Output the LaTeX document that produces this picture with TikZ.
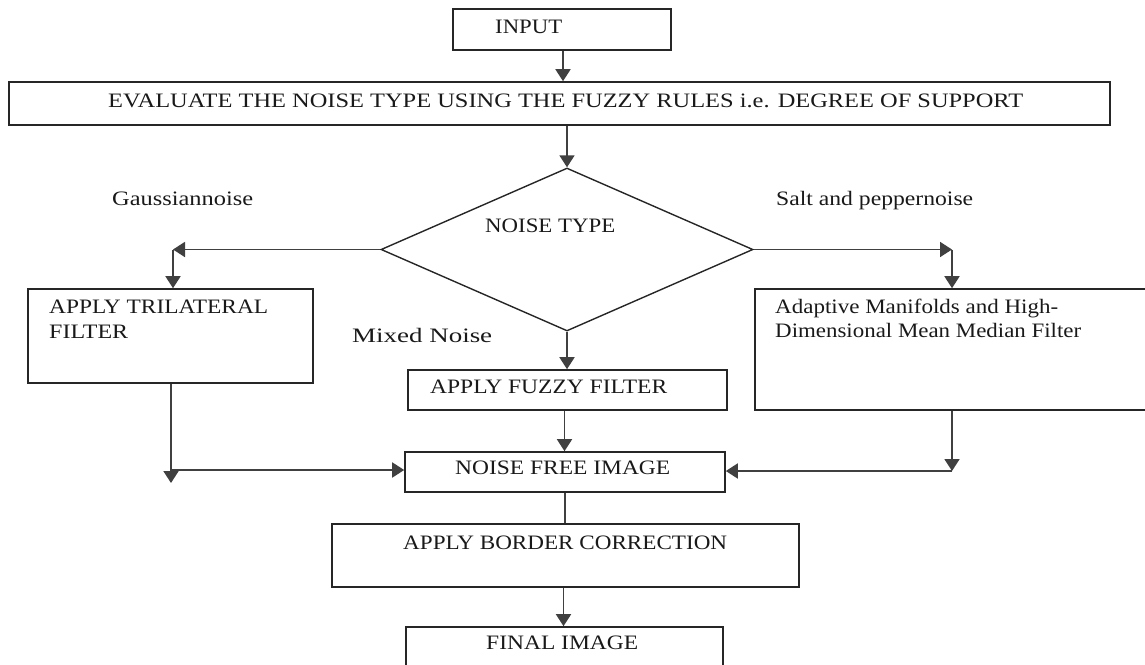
\documentclass[tikz,border=0pt]{standalone}
\usepackage{fontspec}
\setmainfont{Liberation Serif}
\usetikzlibrary{arrows.meta,shapes.geometric}
\newcommand{\fitw}[2]{\resizebox{#1pt}{\height}{#2}}
\begin{document}
\begin{tikzpicture}[x=1pt,y=-1pt,
  box/.style={draw=black!85,line width=1.6pt,inner sep=0pt,rectangle},
  txt/.style={anchor=base west,inner sep=0pt,font=\fontsize{20.5}{24}\selectfont,text=black!90},
  arr/.style={draw=black!75,line width=1.8pt,-{Triangle[length=12pt,width=15pt]}},
  ln/.style={draw=black!75,line width=1.8pt}]
\useasboundingbox (0,0) rectangle (1145,664);
% boxes
\node[box,minimum width=218pt,minimum height=41pt] (input) at (562,29.5) {};
\node[box,minimum width=1101pt,minimum height=43pt] (eval) at (559.5,103.5) {};
\node[draw=black!85,line width=1.4pt,shape=diamond,inner sep=0pt,minimum width=372pt,minimum height=163pt] (dia) at (567,249.5) {};
\node[box,minimum width=285pt,minimum height=94pt] (tri) at (170.5,336) {};
\node[box,minimum width=395pt,minimum height=121pt] (amf) at (952.5,349.5) {};
\node[box,minimum width=319pt,minimum height=40pt] (fuz) at (567.5,390) {};
\node[box,minimum width=320pt,minimum height=40pt] (nf) at (565,472) {};
\node[box,minimum width=467pt,minimum height=63pt] (bc) at (565.5,555.5) {};
\node[box,minimum width=317pt,minimum height=53pt] (fin) at (564.5,653.5) {};
% texts
\node[txt] (tinput) at (495,33) {\fitw{67}{INPUT}};
\node[txt] (teval) at (108,107) {\fitw{915}{EVALUATE THE NOISE TYPE USING THE FUZZY RULES i.e. DEGREE OF SUPPORT}};
\node[txt] (tgauss) at (112,205) {\fitw{141}{Gaussiannoise}};
\node[txt] (tsalt) at (776,205) {\fitw{197}{Salt and peppernoise}};
\node[txt] (tdia) at (485,232) {\fitw{130}{NOISE TYPE}};
\node[txt] (ttri1) at (49,313) {\fitw{219}{APPLY TRILATERAL}};
\node[txt] (ttri2) at (49,338) {\fitw{79}{FILTER}};
\node[txt] (tamf1) at (775,313) {\fitw{283}{Adaptive Manifolds and High-}};
\node[txt] (tamf2) at (775,337) {\fitw{306}{Dimensional Mean Median Filter}};
\node[txt] (tmix) at (352,342) {\fitw{140}{Mixed Noise}};
\node[txt] (tfuz) at (430,393) {\fitw{237}{APPLY FUZZY FILTER}};
\node[txt] (tnf) at (455,474) {\fitw{215}{NOISE FREE IMAGE}};
\node[txt] (tbc) at (403,549) {\fitw{324}{APPLY BORDER CORRECTION}};
\node[txt] (tfin) at (486,649) {\fitw{152}{FINAL IMAGE}};
% connector coordinates
\coordinate (gl) at (173,249.5);
\coordinate (gr) at (952,249.5);
\coordinate (bl) at (171,483);
\coordinate (br) at (952,471);
% connectors
\draw[arr] ([xshift=1pt]input.south) -- ([xshift=1pt]input.south |- eval.north);
\draw[arr] (dia.north |- eval.south) -- (dia.north);
\draw[arr] (dia.west) -- (gl);
\draw[arr] (gl) -- (gl |- tri.north);
\draw[arr] (dia.east) -- (gr);
\draw[arr] (gr) -- (gr |- amf.north);
\draw[arr] (dia.south) -- (dia.south |- fuz.north);
\draw[arr] ([xshift=-3pt]fuz.south) -- ([xshift=-3pt]fuz.south |- nf.north);
\draw[arr] (bl |- tri.south) -- (bl);
\draw[arr] (171,470) -- (nf.west |- 0,470);
\draw[arr] (br |- amf.south) -- (br);
\draw[arr] (br) -- (nf.east |- br);
\draw[ln] (nf.south) -- (nf.south |- bc.north);
\draw[arr] ([xshift=-2pt]bc.south) -- ([xshift=-2pt]bc.south |- fin.north);
\end{tikzpicture}
\end{document}
